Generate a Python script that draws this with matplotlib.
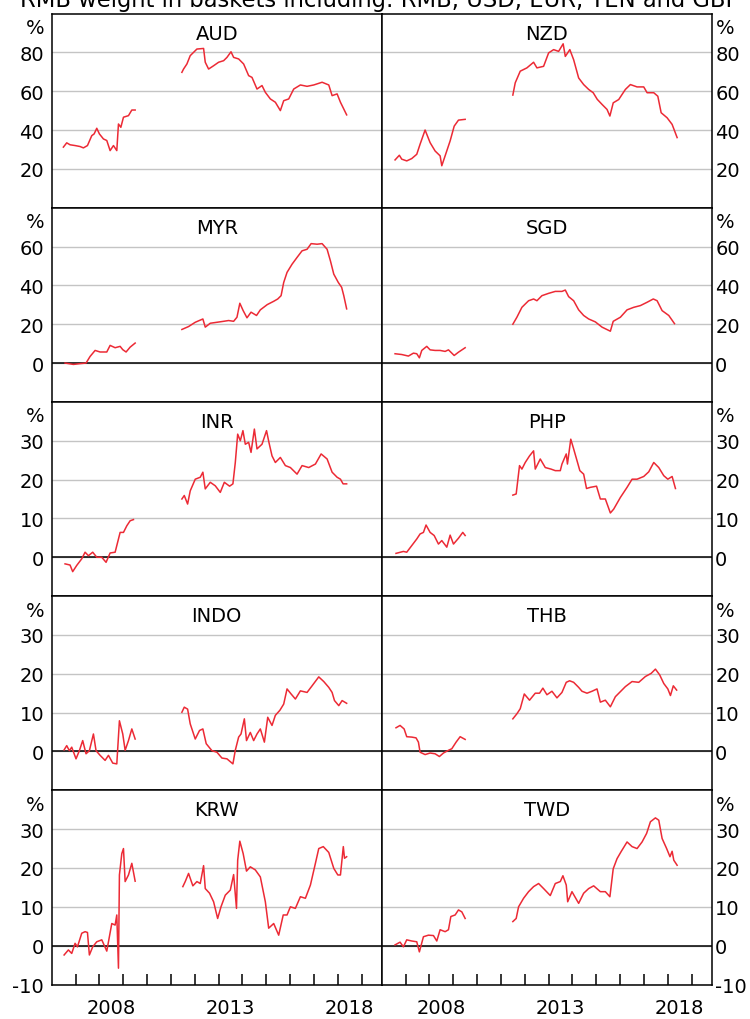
import matplotlib
matplotlib.use('Agg')
import matplotlib.pyplot as plt

plt.rcParams['font.family'] = ['DejaVu Sans']
plt.rcParams['axes.unicode_minus'] = False

title = 'RMB weight in baskets including: RMB, USD, EUR, YEN and GBP'

# ---- data: (decimal year, %), two estimation windows ----
aud_t1 = [2006.49, 2006.63, 2006.77, 2006.98, 2007.19, 2007.33, 2007.50, 2007.68, 2007.78, 2007.89, 2008.00,
          2008.17, 2008.31, 2008.45, 2008.59, 2008.73, 2008.80, 2008.90, 2009.01, 2009.22, 2009.36, 2009.50]
aud_v1 = [31.2, 33.4, 32.4, 32.0, 31.5, 30.8, 32.0, 37.1, 38.0, 40.9, 38.0,
          35.4, 34.6, 29.4, 32.0, 29.4, 43.1, 41.4, 46.6, 47.4, 50.3, 50.3]
aud_t2 = [2011.46, 2011.53, 2011.67, 2011.81, 2011.95, 2012.09, 2012.37, 2012.44, 2012.58, 2012.79, 2013.00,
          2013.21, 2013.35, 2013.52, 2013.63, 2013.84, 2014.05, 2014.26, 2014.40, 2014.61, 2014.82, 2014.96,
          2015.17, 2015.38, 2015.59, 2015.73, 2015.94, 2016.15, 2016.43, 2016.71, 2016.99, 2017.34, 2017.62,
          2017.76, 2017.97, 2018.11, 2018.37]
aud_v2 = [69.7, 71.4, 74.0, 78.3, 80.0, 81.7, 82.0, 74.9, 71.4, 73.1, 74.9,
          75.7, 77.4, 80.3, 77.4, 76.6, 74.0, 68.0, 67.1, 61.1, 62.9, 59.4,
          56.0, 54.3, 50.0, 55.1, 56.0, 61.1, 63.2, 62.5, 63.2, 64.6, 63.2,
          57.7, 58.6, 54.3, 47.8]

nzd_t1 = [2006.56, 2006.74, 2006.84, 2007.05, 2007.26, 2007.47, 2007.61, 2007.82, 2008.03, 2008.24, 2008.45,
          2008.52, 2008.66, 2008.87, 2009.04, 2009.22, 2009.50]
nzd_v1 = [24.6, 27.0, 25.0, 24.1, 25.3, 27.5, 32.7, 40.0, 33.5, 29.2, 26.7,
          21.6, 26.7, 34.4, 42.0, 45.1, 45.5]
nzd_t2 = [2011.50, 2011.60, 2011.81, 2012.09, 2012.37, 2012.51, 2012.79, 2013.00, 2013.21, 2013.42, 2013.61,
          2013.70, 2013.89, 2014.05, 2014.26, 2014.47, 2014.68, 2014.87, 2015.04, 2015.24, 2015.45, 2015.57,
          2015.71, 2015.94, 2016.22, 2016.43, 2016.71, 2016.99, 2017.13, 2017.41, 2017.58, 2017.72, 2017.97,
          2018.18, 2018.39]
nzd_v2 = [58.0, 64.3, 70.3, 72.0, 74.9, 72.0, 72.8, 79.7, 81.4, 80.5, 84.4,
          77.9, 81.4, 76.2, 66.8, 63.4, 60.9, 59.2, 55.8, 53.2, 50.6, 47.2,
          54.0, 55.7, 60.9, 63.4, 62.2, 62.2, 59.2, 59.2, 57.4, 48.9, 46.3,
          42.9, 36.1]

myr_t1 = [2006.56, 2006.91, 2007.19, 2007.44, 2007.61, 2007.82, 2008.03, 2008.31, 2008.45, 2008.66, 2008.87,
          2008.98, 2009.12, 2009.29, 2009.50]
myr_v1 = [0.0, -0.7, -0.3, 0.0, 3.4, 6.5, 5.7, 5.7, 9.1, 7.9, 8.6,
          6.9, 5.7, 8.2, 10.3]
myr_t2 = [2011.46, 2011.74, 2012.02, 2012.34, 2012.44, 2012.65, 2012.93, 2013.21, 2013.42, 2013.63, 2013.77,
          2013.89, 2014.03, 2014.19, 2014.36, 2014.59, 2014.75, 2015.04, 2015.31, 2015.48, 2015.62, 2015.73,
          2015.87, 2016.08, 2016.29, 2016.50, 2016.71, 2016.88, 2017.13, 2017.34, 2017.55, 2017.69, 2017.83,
          2018.02, 2018.16, 2018.25, 2018.37]
myr_v2 = [17.3, 18.8, 21.0, 22.7, 18.5, 20.5, 21.0, 21.5, 21.9, 21.5, 23.6,
          30.8, 27.0, 23.3, 26.2, 24.5, 27.4, 30.1, 31.8, 33.0, 34.7, 41.5,
          46.7, 50.9, 54.4, 57.8, 58.6, 61.5, 61.2, 61.5, 58.6, 52.6, 45.8,
          41.5, 39.0, 34.7, 27.9]

sgd_t1 = [2006.56, 2006.84, 2007.12, 2007.33, 2007.47, 2007.58, 2007.68, 2007.89, 2008.03, 2008.24, 2008.45,
          2008.66, 2008.80, 2008.90, 2009.04, 2009.22, 2009.50]
sgd_v1 = [4.8, 4.4, 3.6, 5.1, 4.8, 2.7, 6.5, 8.6, 6.8, 6.5, 6.5,
          6.0, 6.8, 5.6, 3.9, 5.6, 7.9]
sgd_t2 = [2011.50, 2011.67, 2011.88, 2012.16, 2012.37, 2012.51, 2012.72, 2013.00, 2013.28, 2013.56, 2013.70,
          2013.84, 2014.05, 2014.26, 2014.47, 2014.68, 2014.96, 2015.24, 2015.59, 2015.71, 2016.01, 2016.29,
          2016.57, 2016.85, 2017.13, 2017.39, 2017.55, 2017.76, 2018.04, 2018.28]
sgd_v2 = [20.0, 23.6, 28.7, 32.1, 33.0, 32.1, 34.7, 35.9, 36.9, 36.9, 37.6,
          34.2, 32.1, 27.4, 24.5, 22.7, 21.2, 18.5, 16.4, 21.5, 23.6, 27.4,
          28.7, 29.6, 31.3, 33.0, 32.1, 27.0, 24.5, 20.3]

inr_t1 = [2006.56, 2006.77, 2006.88, 2007.05, 2007.26, 2007.40, 2007.54, 2007.72, 2007.89, 2008.10, 2008.28,
          2008.45, 2008.66, 2008.87, 2009.01, 2009.15, 2009.29, 2009.43]
inr_v1 = [-1.7, -2.0, -3.7, -2.1, -0.4, 1.3, 0.4, 1.3, 0.0, 0.0, -1.3,
          1.1, 1.3, 6.4, 6.4, 8.1, 9.4, 9.7]
inr_t2 = [2011.46, 2011.56, 2011.70, 2011.81, 2012.02, 2012.23, 2012.34, 2012.44, 2012.65, 2012.86, 2013.07,
          2013.24, 2013.46, 2013.60, 2013.70, 2013.80, 2013.91, 2014.02, 2014.12, 2014.26, 2014.36, 2014.50,
          2014.61, 2014.82, 2015.01, 2015.11, 2015.24, 2015.38, 2015.59, 2015.80, 2016.01, 2016.29, 2016.50,
          2016.78, 2017.06, 2017.30, 2017.55, 2017.76, 2017.97, 2018.11, 2018.22, 2018.37]
inr_v2 = [15.0, 15.9, 13.7, 17.1, 20.1, 20.6, 21.9, 17.6, 19.3, 18.4, 16.7,
          19.3, 18.3, 18.9, 24.4, 31.7, 30.0, 32.6, 29.1, 29.6, 27.0, 33.0,
          27.9, 29.1, 32.6, 29.6, 26.1, 24.4, 25.7, 23.6, 23.1, 21.4, 23.6,
          23.1, 24.0, 26.6, 25.3, 21.9, 20.6, 20.1, 18.9, 18.9]

php_t1 = [2006.60, 2006.91, 2007.05, 2007.26, 2007.47, 2007.61, 2007.75, 2007.86, 2008.03, 2008.20, 2008.38,
          2008.52, 2008.73, 2008.87, 2009.01, 2009.22, 2009.40, 2009.50]
php_v1 = [1.0, 1.5, 1.3, 3.0, 4.7, 6.0, 6.4, 8.3, 6.4, 5.6, 3.4,
          4.3, 2.6, 5.7, 3.4, 4.9, 6.4, 5.6]
php_t2 = [2011.50, 2011.64, 2011.78, 2011.88, 2012.02, 2012.20, 2012.37, 2012.44, 2012.65, 2012.86, 2013.10,
          2013.28, 2013.49, 2013.56, 2013.74, 2013.79, 2013.93, 2014.05, 2014.19, 2014.31, 2014.47, 2014.59,
          2014.75, 2015.01, 2015.17, 2015.38, 2015.59, 2015.73, 2016.01, 2016.29, 2016.50, 2016.71, 2016.99,
          2017.20, 2017.41, 2017.62, 2017.83, 2018.00, 2018.18, 2018.32]
php_v2 = [16.0, 16.3, 23.6, 22.7, 24.4, 26.1, 27.4, 22.7, 25.3, 23.1, 22.7,
          22.3, 22.3, 24.0, 26.6, 24.0, 30.4, 27.9, 24.9, 22.3, 21.4, 17.7,
          18.0, 18.3, 15.0, 15.0, 11.4, 12.4, 15.4, 18.0, 20.1, 20.1, 20.8,
          22.0, 24.4, 23.1, 21.0, 20.1, 20.8, 17.7]

indo_t1 = [2006.52, 2006.63, 2006.74, 2006.84, 2007.02, 2007.16, 2007.30, 2007.44, 2007.58, 2007.75, 2007.86,
           2008.03, 2008.24, 2008.38, 2008.56, 2008.73, 2008.84, 2008.98, 2009.08, 2009.22, 2009.36, 2009.50]
indo_v1 = [0.4, 1.5, 0.2, 1.1, -1.9, 0.2, 2.8, -0.6, 0.2, 4.5, 0.2,
           -1.0, -2.3, -1.0, -3.0, -3.2, 7.9, 4.5, 0.3, 2.8, 5.8, 3.2]
indo_t2 = [2011.46, 2011.56, 2011.70, 2011.81, 2012.02, 2012.20, 2012.34, 2012.48, 2012.72, 2012.93, 2013.14,
           2013.35, 2013.60, 2013.70, 2013.84, 2013.94, 2014.08, 2014.17, 2014.33, 2014.47, 2014.61, 2014.75,
           2014.92, 2015.06, 2015.24, 2015.38, 2015.57, 2015.73, 2015.87, 2016.04, 2016.22, 2016.43, 2016.71,
           2016.92, 2017.20, 2017.41, 2017.62, 2017.76, 2017.86, 2018.04, 2018.18, 2018.37]
indo_v2 = [10.1, 11.4, 10.9, 7.1, 3.2, 5.4, 5.8, 2.0, 0.2, -0.2, -1.7,
           -1.9, -3.2, 0.3, 3.7, 4.5, 8.4, 2.8, 4.9, 2.8, 4.5, 5.8,
           2.4, 8.8, 6.7, 9.3, 10.6, 12.2, 16.1, 14.8, 13.5, 15.6, 15.2,
           16.9, 19.2, 18.0, 16.5, 15.2, 13.1, 11.8, 13.1, 12.4]

thb_t1 = [2006.60, 2006.77, 2006.94, 2007.05, 2007.26, 2007.44, 2007.54, 2007.61, 2007.82, 2008.03, 2008.24,
          2008.42, 2008.59, 2008.80, 2008.94, 2009.12, 2009.29, 2009.50]
thb_v1 = [6.1, 6.7, 5.8, 3.8, 3.7, 3.5, 2.4, -0.2, -0.8, -0.4, -0.6,
          -1.3, -0.4, 0.3, 0.7, 2.4, 3.8, 3.1]
thb_t2 = [2011.50, 2011.67, 2011.81, 2011.98, 2012.20, 2012.44, 2012.62, 2012.76, 2012.93, 2013.14, 2013.35,
          2013.56, 2013.74, 2013.88, 2014.05, 2014.26, 2014.40, 2014.61, 2014.82, 2015.03, 2015.17, 2015.38,
          2015.59, 2015.80, 2016.01, 2016.22, 2016.50, 2016.78, 2017.06, 2017.30, 2017.48, 2017.66, 2017.83,
          2018.00, 2018.11, 2018.23, 2018.37]
thb_v2 = [8.4, 9.7, 11.0, 14.8, 13.2, 15.0, 15.0, 16.3, 14.6, 15.5, 13.8,
          15.2, 17.8, 18.2, 17.8, 16.5, 15.5, 15.0, 15.5, 16.1, 12.7, 13.2,
          11.5, 14.1, 15.4, 16.7, 18.0, 17.8, 19.3, 20.1, 21.2, 19.7, 17.5,
          16.1, 14.4, 16.9, 15.8]

krw_t1 = [2006.52, 2006.70, 2006.84, 2006.98, 2007.08, 2007.26, 2007.40, 2007.50, 2007.58, 2007.72, 2007.89,
          2008.10, 2008.31, 2008.52, 2008.66, 2008.73, 2008.80, 2008.84, 2008.94, 2009.01, 2009.08, 2009.22,
          2009.36, 2009.50]
krw_v1 = [-2.4, -1.1, -2.0, 0.6, -0.3, 3.2, 3.6, 3.4, -2.4, -0.3, 1.0,
          1.5, -1.4, 5.7, 5.3, 7.9, -5.8, 18.2, 23.7, 25.0, 16.5, 18.2,
          21.2, 16.6]
krw_t2 = [2011.50, 2011.60, 2011.74, 2011.92, 2012.09, 2012.23, 2012.37, 2012.44, 2012.62, 2012.79, 2012.96,
          2013.10, 2013.28, 2013.49, 2013.63, 2013.75, 2013.80, 2013.89, 2014.03, 2014.17, 2014.33, 2014.54,
          2014.75, 2014.96, 2015.10, 2015.31, 2015.52, 2015.71, 2015.87, 2016.01, 2016.22, 2016.43, 2016.64,
          2016.85, 2017.06, 2017.20, 2017.39, 2017.62, 2017.83, 2018.00, 2018.11, 2018.23, 2018.28, 2018.37]
krw_v2 = [15.2, 16.5, 18.6, 15.4, 16.5, 16.0, 20.6, 14.7, 13.5, 11.3, 7.0,
          10.0, 13.0, 14.3, 18.3, 9.6, 22.0, 26.9, 23.7, 19.2, 20.3, 19.5,
          17.7, 11.3, 4.5, 5.7, 2.7, 7.9, 7.9, 10.0, 9.6, 12.6, 12.2,
          15.6, 21.2, 25.0, 25.5, 24.0, 19.9, 18.2, 18.2, 25.5, 22.5, 22.9]

twd_t1 = [2006.56, 2006.77, 2006.91, 2007.05, 2007.26, 2007.47, 2007.58, 2007.75, 2007.96, 2008.17, 2008.31,
          2008.45, 2008.66, 2008.80, 2008.90, 2009.08, 2009.22, 2009.36, 2009.50]
twd_v1 = [0.2, 0.9, -0.3, 1.5, 1.2, 1.0, -1.6, 2.3, 2.7, 2.6, 1.2,
          4.1, 3.6, 4.1, 7.5, 7.9, 9.2, 8.7, 7.0]
twd_t2 = [2011.50, 2011.64, 2011.74, 2011.95, 2012.16, 2012.37, 2012.58, 2012.79, 2013.07, 2013.28, 2013.49,
          2013.60, 2013.74, 2013.80, 2013.98, 2014.26, 2014.47, 2014.68, 2014.89, 2015.17, 2015.38, 2015.57,
          2015.71, 2015.87, 2016.04, 2016.29, 2016.50, 2016.71, 2016.92, 2017.11, 2017.27, 2017.48, 2017.62,
          2017.76, 2017.95, 2018.09, 2018.18, 2018.25, 2018.39]
twd_v2 = [6.2, 7.0, 10.0, 12.2, 13.9, 15.2, 16.0, 14.7, 12.9, 16.0, 16.5,
          18.0, 15.6, 11.3, 13.9, 10.9, 13.5, 14.7, 15.4, 13.9, 13.9, 12.6,
          19.8, 22.4, 24.2, 26.7, 25.5, 25.0, 26.7, 28.9, 31.9, 32.9, 32.3,
          27.6, 25.0, 22.9, 24.3, 22.0, 20.7]

series = {
    'AUD': (aud_t1, aud_v1, aud_t2, aud_v2), 'NZD': (nzd_t1, nzd_v1, nzd_t2, nzd_v2),
    'MYR': (myr_t1, myr_v1, myr_t2, myr_v2), 'SGD': (sgd_t1, sgd_v1, sgd_t2, sgd_v2),
    'INR': (inr_t1, inr_v1, inr_t2, inr_v2), 'PHP': (php_t1, php_v1, php_t2, php_v2),
    'INDO': (indo_t1, indo_v1, indo_t2, indo_v2), 'THB': (thb_t1, thb_v1, thb_t2, thb_v2),
    'KRW': (krw_t1, krw_v1, krw_t2, krw_v2), 'TWD': (twd_t1, twd_v1, twd_t2, twd_v2),
}

# rows: panel names, y range, labelled ticks
rows = [
    (('AUD', 'NZD'), (0, 100), [20, 40, 60, 80]),
    (('MYR', 'SGD'), (-20, 80), [0, 20, 40, 60]),
    (('INR', 'PHP'), (-10, 40), [0, 10, 20, 30]),
    (('INDO', 'THB'), (-10, 40), [0, 10, 20, 30]),
    (('KRW', 'TWD'), (-10, 40), [-10, 0, 10, 20, 30]),
]
year_ticks = list(range(2007, 2020))
year_labels = ['2008', '2013', '2018']

W, H = 750, 1020
fig = plt.figure(figsize=(W / 100, H / 100), dpi=100)

x0 = [51.7, 381.7]
pw = 330.0
top = 14.5
ph = 194.2
red = '#ec2a35'
fs = 14

# title sits partly above the top edge, as in the source image
fig.text(380 / W, 1 - 6.5 / H, title, ha='center', va='baseline', fontsize=16.3)

for r, (names, ylim, ticks) in enumerate(rows):
    for c in range(2):
        ypix = top + r * ph
        ax = fig.add_axes([x0[c] / W, 1 - (ypix + ph) / H, pw / W, ph / H])
        t1, v1, t2, v2 = series[names[c]]
        ax.plot(t1, v1, color=red, lw=1.1)
        ax.plot(t2, v2, color=red, lw=1.1)
        ax.set_xlim(2006, 2019.84)
        ax.set_ylim(*ylim)
        ax.set_yticks(ticks)
        ax.yaxis.grid(True, color='#c4c4c4', lw=1)
        ax.set_axisbelow(True)
        if ylim[0] < 0 < ylim[1]:
            ax.axhline(0, color='black', lw=1.1, zorder=1.5)
        for s in ax.spines.values():
            s.set_color('black')
            s.set_linewidth(1.1)

        if c == 0:
            ax.tick_params(axis='y', length=0, pad=5.5, labelsize=fs)
            ax.text(-7.5 / pw, 1 - 19.5 / ph, '%', transform=ax.transAxes,
                    ha='right', va='baseline', fontsize=fs)
        else:
            ax.yaxis.tick_right()
            ax.tick_params(axis='y', length=0, pad=2.5, labelsize=fs)
            ax.text(1 + 4.5 / pw, 1 - 19.5 / ph, '%', transform=ax.transAxes,
                    ha='left', va='baseline', fontsize=fs)

        ax.text(0.5, 1 - 25 / ph, names[c], transform=ax.transAxes,
                ha='center', va='baseline', fontsize=fs)

        if r == len(rows) - 1:
            ax.set_xticks(year_ticks)
            ax.set_xticklabels([])
            ax.tick_params(axis='x', which='major', direction='in', length=8, width=1.1)
            ax.set_xticks([int(y) + 0.5 for y in year_labels], minor=True)
            ax.set_xticklabels(year_labels, minor=True)
            ax.tick_params(axis='x', which='minor', length=0, pad=10, labelsize=fs)
        else:
            ax.set_xticks([])

fig.savefig('out.png', dpi=100)
